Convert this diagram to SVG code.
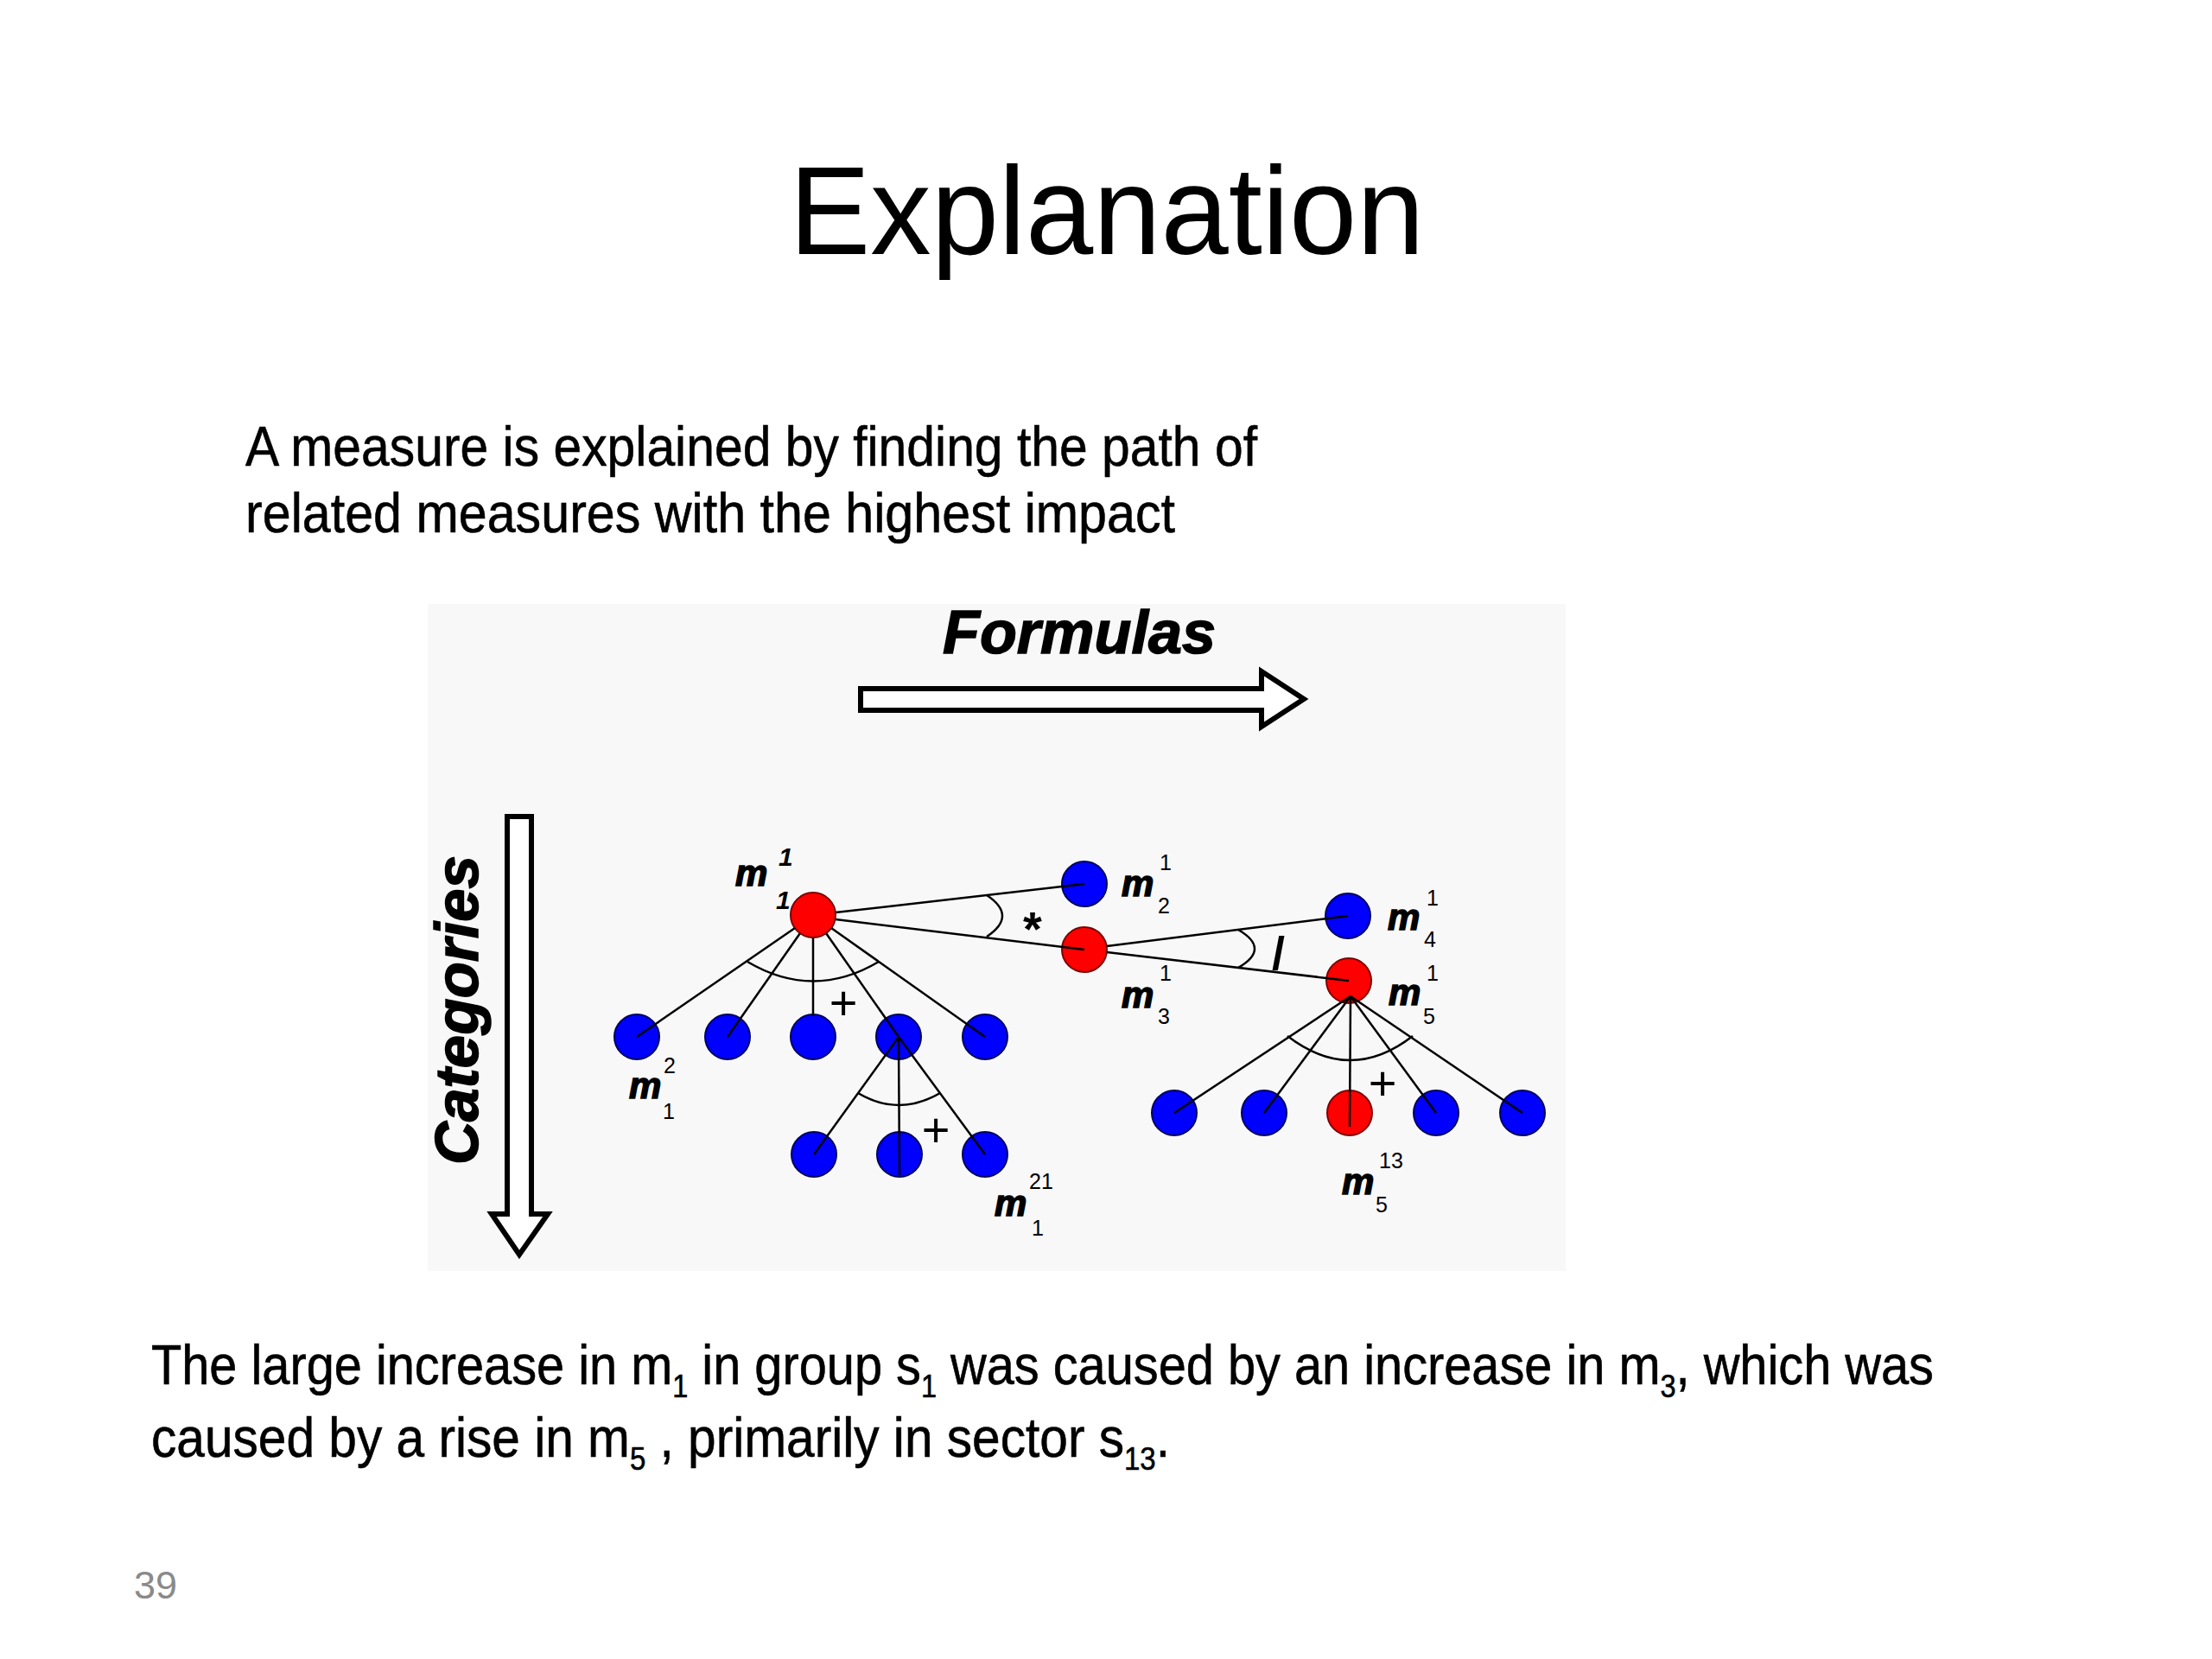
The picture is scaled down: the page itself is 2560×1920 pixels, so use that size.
<svg xmlns="http://www.w3.org/2000/svg" width="2560" height="1920" viewBox="0 0 2560 1920">
<style>
  text { font-family: "Liberation Sans", Arial, sans-serif; fill: #000; }
  .title { font-size: 144px; }
  .body { font-size: 64px; stroke: #000; stroke-width: 0.6; }
  .sub { font-size: 36px; }
  .pg { font-size: 45px; fill: #8a8a8a; stroke: none; }
  .hdr { font-size: 70px; font-weight: bold; font-style: italic; stroke: #000; stroke-width: 1.5; }
  .m { font-size: 42px; font-weight: bold; font-style: italic; stroke: #000; stroke-width: 1.5; }
  .dg { font-size: 25px; }
  .rdg { font-size: 30px; font-weight: bold; font-style: italic; }
  .op { font-size: 56px; }
  .red { fill: #ff0000; stroke: #7a0000; stroke-width: 2; }
  .blue { fill: #0000ff; stroke: #00005a; stroke-width: 2; }
  .ln { stroke: #000; stroke-width: 2.5; fill: none; }
  .big { fill: #fff; stroke: #000; stroke-width: 6; stroke-linejoin: miter; }
</style>

<rect x="0" y="0" width="2560" height="1920" fill="#fff"/>

<text class="title" x="1281" y="294" text-anchor="middle" textLength="735" lengthAdjust="spacingAndGlyphs">Explanation</text>

<text class="body" x="284" y="539" textLength="1171" lengthAdjust="spacingAndGlyphs">A measure is explained by finding the path of</text>
<text class="body" x="284" y="616" textLength="1076" lengthAdjust="spacingAndGlyphs">related measures with the highest impact</text>

<!-- diagram background -->
<rect x="495" y="699" width="1317" height="772" fill="#f8f8f8"/>

<g id="formulas">
  <text class="hdr" x="1091" y="756" textLength="316" lengthAdjust="spacingAndGlyphs">Formulas</text>
  <polygon class="big" points="996,797 1460,797 1460,777 1509,809 1460,841 1460,822 996,822"/>
</g>

<g id="categories">
  <text class="hdr" transform="translate(553,1348) rotate(-90)" x="0" y="0" textLength="358" lengthAdjust="spacingAndGlyphs">Categories</text>
  <polygon class="big" points="587,945 615,945 615,1405 634,1405 601,1452 569,1405 587,1405"/>
</g>

<!-- nodes -->
<g id="n-m1-1">
  <circle class="red" cx="941" cy="1059" r="26"/>
  <text class="m" x="851" y="1025">m</text>
  <text class="rdg" x="901" y="1002">1</text>
  <text class="rdg" x="898" y="1052">1</text>
</g>
<g id="n-m2-1">
  <circle class="blue" cx="1255" cy="1023" r="26"/>
  <text class="m" x="1298" y="1037">m</text>
  <text class="dg" x="1342" y="1007">1</text>
  <text class="dg" x="1340" y="1057">2</text>
</g>
<g id="n-m3-1">
  <circle class="red" cx="1255" cy="1099" r="26"/>
  <text class="m" x="1298" y="1166">m</text>
  <text class="dg" x="1342" y="1135">1</text>
  <text class="dg" x="1340" y="1185">3</text>
</g>
<g id="n-m4-1">
  <circle class="blue" cx="1560" cy="1060" r="26"/>
  <text class="m" x="1606" y="1076">m</text>
  <text class="dg" x="1651" y="1048">1</text>
  <text class="dg" x="1648" y="1096">4</text>
</g>
<g id="n-m5-1">
  <circle class="red" cx="1561" cy="1135" r="26"/>
  <text class="m" x="1607" y="1163">m</text>
  <text class="dg" x="1651" y="1135">1</text>
  <text class="dg" x="1647" y="1185">5</text>
</g>

<g id="n-m1-2">
  <circle class="blue" cx="737" cy="1200" r="26"/>
  <text class="m" x="728" y="1271">m</text>
  <text class="dg" x="768" y="1242">2</text>
  <text class="dg" x="767" y="1295">1</text>
</g>
<g id="n-r1-2"><circle class="blue" cx="842" cy="1200" r="26"/></g>
<g id="n-r1-3"><circle class="blue" cx="941" cy="1200" r="26"/></g>
<g id="n-r1-4"><circle class="blue" cx="1040" cy="1200" r="26"/></g>
<g id="n-r1-5"><circle class="blue" cx="1140" cy="1200" r="26"/></g>

<g id="n-r2-1"><circle class="blue" cx="942" cy="1336" r="26"/></g>
<g id="n-r2-2"><circle class="blue" cx="1041" cy="1336" r="26"/></g>
<g id="n-m1-21">
  <circle class="blue" cx="1140" cy="1336" r="26"/>
  <text class="m" x="1151" y="1407">m</text>
  <text class="dg" x="1191" y="1376">21</text>
  <text class="dg" x="1194" y="1430">1</text>
</g>

<g id="n-r3-1"><circle class="blue" cx="1359" cy="1288" r="26"/></g>
<g id="n-r3-2"><circle class="blue" cx="1463" cy="1288" r="26"/></g>
<g id="n-m5-13">
  <circle class="red" cx="1562" cy="1288" r="26"/>
  <text class="m" x="1553" y="1382">m</text>
  <text class="dg" x="1596" y="1352">13</text>
  <text class="dg" x="1592" y="1403">5</text>
</g>
<g id="n-r3-4"><circle class="blue" cx="1662" cy="1288" r="26"/></g>
<g id="n-r3-5"><circle class="blue" cx="1762" cy="1288" r="26"/></g>

<!-- connectors -->
<g id="connectors">
  <line class="ln" x1="967" y1="1056" x2="1255" y2="1023"/>
  <line class="ln" x1="967" y1="1064" x2="1255" y2="1099"/>
  <line class="ln" x1="1281" y1="1095" x2="1560" y2="1060"/>
  <line class="ln" x1="1281" y1="1102" x2="1561" y2="1135"/>

  <line class="ln" x1="920" y1="1074" x2="737" y2="1200"/>
  <line class="ln" x1="926" y1="1080" x2="842" y2="1200"/>
  <line class="ln" x1="941" y1="1085" x2="941" y2="1176"/>
  <line class="ln" x1="956" y1="1080" x2="1040" y2="1200"/>
  <line class="ln" x1="962" y1="1074" x2="1140" y2="1200"/>

  <line class="ln" x1="1040" y1="1200" x2="942" y2="1336"/>
  <line class="ln" x1="1040" y1="1200" x2="1041" y2="1360"/>
  <line class="ln" x1="1040" y1="1200" x2="1140" y2="1336"/>

  <line class="ln" x1="1563" y1="1153" x2="1359" y2="1288"/>
  <line class="ln" x1="1563" y1="1153" x2="1463" y2="1288"/>
  <line class="ln" x1="1563" y1="1153" x2="1562" y2="1304"/>
  <line class="ln" x1="1563" y1="1153" x2="1662" y2="1288"/>
  <line class="ln" x1="1563" y1="1153" x2="1762" y2="1288"/>

  <path class="ln" d="M 1142 1036 Q 1178 1060 1142 1084"/>
  <path class="ln" d="M 1433 1076 Q 1471 1098 1433 1120"/>
  <path class="ln" d="M 865 1113 Q 941 1158 1017 1113"/>
  <path class="ln" d="M 993 1265 Q 1040 1293 1088 1265"/>
  <path class="ln" d="M 1490 1199 Q 1563 1255 1635 1199"/>

  <text x="1195" y="1094" text-anchor="middle" style="font-size:56px;font-weight:bold">*</text>
  <text x="1472" y="1122" style="font-size:54px;font-weight:bold">/</text>
  <text class="op" x="976" y="1180" text-anchor="middle">+</text>
  <text class="op" x="1083" y="1327" text-anchor="middle">+</text>
  <text class="op" x="1600" y="1273" text-anchor="middle">+</text>
</g>

<text class="body" x="175" y="1602" textLength="2063" lengthAdjust="spacingAndGlyphs">The large increase in m<tspan class="sub" dy="15">1</tspan><tspan dy="-15"> in group s</tspan><tspan class="sub" dy="15">1</tspan><tspan dy="-15"> was caused by an increase in m</tspan><tspan class="sub" dy="15">3</tspan><tspan dy="-15">, which was</tspan></text>
<text class="body" x="175" y="1686" textLength="1179" lengthAdjust="spacingAndGlyphs">caused by a rise in m<tspan class="sub" dy="15">5</tspan><tspan dy="-15"> , primarily in sector s</tspan><tspan class="sub" dy="15">13</tspan><tspan dy="-15">.</tspan></text>

<text class="pg" x="155" y="1850">39</text>
</svg>
